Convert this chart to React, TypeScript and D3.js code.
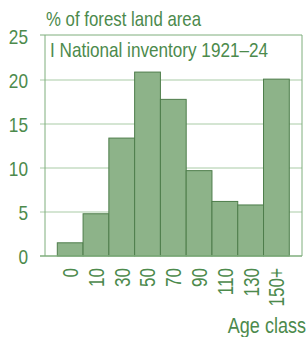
import React, { useEffect, useRef } from "react";
import * as d3 from "d3";

// age classes and share of forest land area (%)
const ageClasses = ["0", "10", "30", "50", "70", "90", "110", "130", "150+"];
const shares = [1.5, 4.8, 13.4, 20.9, 17.8, 9.7, 6.2, 5.8, 20.1];
const yTicks = [0, 5, 10, 15, 20, 25];

const FONT = "'Liberation Sans', Arial, sans-serif";
const TEXT = "#4c8a4c";
const SQUEEZE = 0.82; // narrow look of the original type

export default function App() {
  const ref = useRef<SVGSVGElement | null>(null);

  useEffect(() => {
    const svg = d3.select(ref.current);
    svg.selectAll("*").remove();

    const width = 308, height = 337;
    const box = { left: 45, top: 35, right: 302, bottom: 256 };

    const x = d3.scaleBand<string>().domain(ageClasses).range([57.3, 289.3]).padding(0);
    const y = d3.scaleLinear().domain([0, 25]).range([box.bottom, 36]);

    svg.append("rect").attr("width", width).attr("height", height).attr("fill", "#fff");

    // gridlines (extend a bit left as ticks)
    svg.append("g")
      .selectAll("line")
      .data(yTicks.filter(d => d > 0 && d < 25))
      .enter().append("line")
      .attr("x1", 40).attr("x2", box.right)
      .attr("y1", d => y(d)).attr("y2", d => y(d))
      .attr("stroke", "#a9cba6").attr("stroke-width", 1);

    // box frame
    svg.append("path")
      .attr("d", `M${box.left},${box.bottom}V${box.top}H${box.right}V${box.bottom}`)
      .attr("fill", "none").attr("stroke", "#7fae7c").attr("stroke-width", 1);
    svg.append("line")
      .attr("x1", 40).attr("x2", box.left).attr("y1", box.top).attr("y2", box.top)
      .attr("stroke", "#7fae7c");

    // bars
    svg.append("g")
      .selectAll("rect")
      .data(shares)
      .enter().append("rect")
      .attr("x", (d, i) => x(ageClasses[i])!)
      .attr("width", x.bandwidth())
      .attr("y", d => y(d))
      .attr("height", d => y(0) - y(d))
      .attr("fill", "#8db389")
      .attr("stroke", "#4e7d4b")
      .attr("stroke-width", 1);

    // baseline
    svg.append("line")
      .attr("x1", 40).attr("x2", box.right)
      .attr("y1", y(0)).attr("y2", y(0))
      .attr("stroke", "#7fae7c").attr("stroke-width", 1.5);

    // y tick labels
    svg.append("g")
      .selectAll("text")
      .data(yTicks)
      .enter().append("text")
      .attr("transform", d => "translate(28," + y(d) + ") scale(" + SQUEEZE + ",1)")
      .attr("dy", "0.36em")
      .attr("text-anchor", "end")
      .style("font-family", FONT).style("font-size", "21px")
      .attr("fill", TEXT)
      .text(d => d);

    // x tick labels, rotated
    svg.append("g")
      .selectAll("text")
      .data(ageClasses)
      .enter().append("text")
      .attr("transform", d => "translate(" + (x(d)! + x.bandwidth() / 2) + ",268) rotate(-90) scale(" + (SQUEEZE * 0.95) + ",1)")
      .attr("dy", "0.36em")
      .attr("text-anchor", "end")
      .style("font-family", FONT).style("font-size", "22px")
      .attr("fill", TEXT)
      .text(d => d);

    // titles
    svg.append("text")
      .attr("transform", "translate(46,26) scale(" + SQUEEZE + ",1)")
      .style("font-family", FONT).style("font-size", "20.5px")
      .attr("fill", TEXT)
      .text("% of forest land area");

    svg.append("text")
      .attr("transform", "translate(50,57) scale(" + (SQUEEZE * 1.02) + ",1)")
      .style("font-family", FONT).style("font-size", "20.5px")
      .attr("fill", TEXT)
      .text("I National inventory 1921–24");

    svg.append("text")
      .attr("transform", "translate(306,333) scale(" + SQUEEZE + ",1)")
      .attr("text-anchor", "end")
      .style("font-family", FONT).style("font-size", "22px")
      .attr("fill", TEXT)
      .text("Age class");
  }, []);

  return (
    <svg ref={ref} width={308} height={337}
      style={{ position: "absolute", left: 0, top: 0, display: "block" }} />
  );
}
